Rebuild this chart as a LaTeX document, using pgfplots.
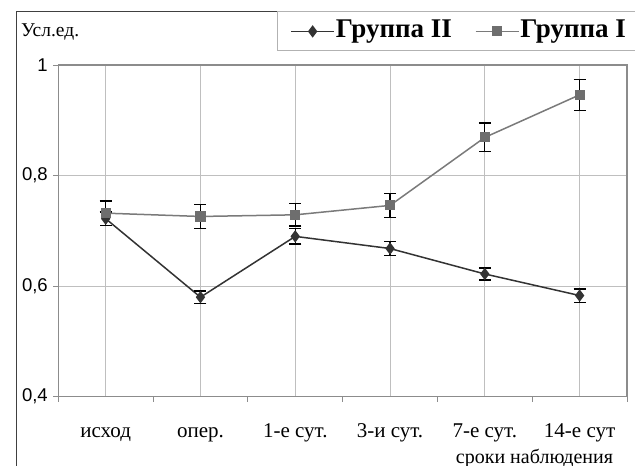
\documentclass[border=0pt]{standalone}
\usepackage{pgfplots}
\pgfplotsset{compat=1.18}
\usepackage{fontspec}
\setmainfont{Liberation Serif}
\setsansfont{Liberation Sans}
\definecolor{gII}{HTML}{333333}
\definecolor{gI}{HTML}{7A7A7A}
\definecolor{frame}{HTML}{8C8C8C}
\definecolor{grid}{HTML}{D6D6D6}
\begin{document}
\begin{tikzpicture}
\useasboundingbox (0,0) rectangle (635pt,466pt);
% outer chart frame
\draw[black!75, line width=1.1pt] (16.7pt,-20pt) -- (16.7pt,454.5pt) -- (700pt,454.5pt);
\node[anchor=west, inner sep=0pt, font=\fontsize{19.5}{19.5}\selectfont] at (21pt,434pt) {Усл.ед.};
\node[anchor=center, inner sep=0pt, font=\fontsize{20}{20}\selectfont] at (534.5pt,8pt) {сроки наблюдения};
\begin{axis}[
  at={(58.3pt,69.3pt)}, anchor=south west,
  scale only axis, width=568.7pt, height=331.7pt,
  xmin=-0.5, xmax=5.5, ymin=0.4, ymax=1,
  axis line style={frame, line width=1.1pt},
  xtick={0,1,2,3,4,5},
  xticklabels={исход,опер.,1-е сут.,3-и сут.,7-е сут.,14-е сут},
  major x tick style={draw=none},
  minor xtick={-0.5,0.5,1.5,2.5,3.5,4.5,5.5},
  minor x tick style={frame, line width=1pt},
  minor tick length=5pt,
  xtick align=outside,
  ytick={0.4,0.6,0.8,1},
  yticklabels={{0,4},{0,6},{0,8},1},
  ytick align=outside, ytick pos=left, xtick pos=bottom,
  major y tick style={frame, line width=1pt},
  major tick length=5pt,
  ymajorgrids, grid style={grid, line width=1pt},
  xticklabel style={font=\fontsize{21}{21}\selectfont, anchor=base, yshift=-36pt},
  yticklabel style={font=\sffamily\fontsize{18.5}{18.5}\selectfont, xshift=-2pt},
  legend style={at={(0.3846,1.1613)}, anchor=north west, draw=black!30, line width=0.8pt,
    font=\bfseries\fontsize{27}{27}\selectfont, legend columns=2,
    inner xsep=13pt, inner ysep=6pt,
    nodes={text height=19pt, text depth=6pt, inner sep=1pt},
    /tikz/every even column/.append style={column sep=22pt}},
  legend image code/.code={%
    \draw[#1, mark repeat=2, mark phase=2] plot coordinates {(0pt,0pt) (21.5pt,0pt) (43pt,0pt)};},
  clip=false,
]
\addplot[gII, line width=1.5pt, mark=diamond*, mark size=5pt, mark options={gII},
  error bars/.cd, y dir=both, y explicit,
  error bar style={black, line width=1.3pt},
  error mark options={rotate=90, mark size=6pt, black, line width=1.3pt}]
  coordinates {
  (0,0.722) +- (0,0.012)
  (1,0.580) +- (0,0.011)
  (2,0.690) +- (0,0.014)
  (3,0.668) +- (0,0.013)
  (4,0.622) +- (0,0.011)
  (5,0.583) +- (0,0.012)
};
\addlegendentry{Группа II}
\addplot[gI, line width=1.5pt, mark=square*, mark size=4.3pt, mark options={gI!90!black},
  error bars/.cd, y dir=both, y explicit,
  error bar style={black, line width=1.3pt},
  error mark options={rotate=90, mark size=6pt, black, line width=1.3pt}]
  coordinates {
  (0,0.732) +- (0,0.022)
  (1,0.726) +- (0,0.022)
  (2,0.729) +- (0,0.020)
  (3,0.746) +- (0,0.022)
  (4,0.869) +- (0,0.026)
  (5,0.946) +- (0,0.028)
};
\addlegendentry{Группа I\hspace{30pt}}
\end{axis}
\end{tikzpicture}
\end{document}
